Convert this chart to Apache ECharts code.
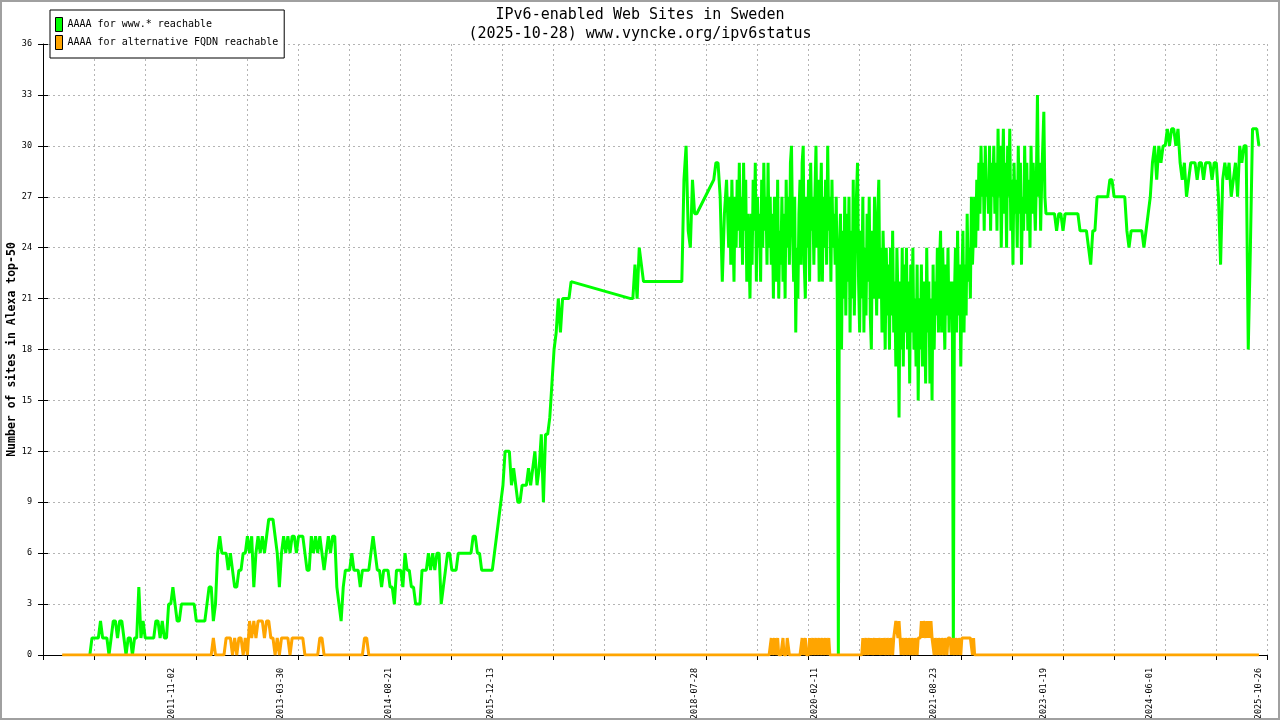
<!DOCTYPE html>
<html><head><meta charset="utf-8">
<script src="https://cdn.jsdelivr.net/npm/echarts@6/dist/echarts.min.js"></script>
<style>
html,body{margin:0;padding:0;background:#fff}
#c{width:1280px;height:720px;position:absolute;left:0;top:0}
#f{position:absolute;left:0;top:0;width:1280px;height:720px;box-sizing:border-box;border:2px solid #a0a0a0;pointer-events:none}
</style></head><body><div id="c"></div><div id="f"></div>
<script>
// x axis: days since axis origin; tick labels as dates
const axisOrigin = '2010-03-09';
const tickLabels = ['2011-11-02','2013-03-30','2014-08-21','2015-12-13','2018-07-28','2020-02-11','2021-08-23','2023-01-19','2024-06-01','2025-10-26'];

// ---- AAAA for www.* reachable ----
// part 1: from 2010-10-15, one value every 10 days
const greenStart1 = '2010-10-15', greenStep1 = 10;
const greenA = [0,1,1,1,1,2,1,1,1,0, 1,2,2,1,2,2,1,0,1,1, 0,1,1,4,1,2,1,1,1,1, 1,2,2,1,2,1,1,3,3,4, 3,2,2,3,3,3,3,3,3,3];
const greenB = [2,2,2,2,2,3,4,4,2,3, 6,7,6,6,6,5,6,5,4,4, 5,5,6,6,7,6,7,4,6,7, 6,7,6,7,8,8,8,7,6,4, 6,7,6,7,6,7,7,6,7,7];
const greenC = [7,6,5,5,7,6,7,6,7,6, 5,6,7,6,7,7,4,3,2,4, 5,5,5,6,5,5,5,4,5,5, 5,5,6,7,6,5,5,4,5,5, 5,4,4,3,5,5,5,4,6,5];
const greenD = [5,4,4,3,3,3,5,5,5,6, 5,6,5,6,6,3,4,5,6,6, 5,5,5,6,6,6,6,6,6,6, 7,7,6,6,5,5,5,5,5,5, 6,7,8,9,10,12,12,12,10,11];
const greenE = [10,9,9,10,10,10,11,10,11,12, 10,11,13,9,13,13,14,16,18,19, 21,19,21,21,21,21,22,null,null,null,
  null,null,null,null,null,null,null,null,null,null, null,null,null,null,null,null,null,null,null,null];
const greenF = [null,null,null,null,21,21,23,21,24,23, 22,22,22,22,22,22,22,22,22,22, 22,22,22,22,22,22,22,22,22,28,
  30,25,24,28,26,26,null,null,null,null, null,null,null,28,29,29,27,22,26,28];
// part 2: from 2019-01-01, one value every 5 days (noisy period)
const greenStart2 = '2019-01-01', greenStep2 = 5;
const green2019 = [24,27,23,28,25,22,27,24,28,25, 29,24,27,23,29,25,28,22,26,24, 21,26,23,28,25,29,22,27,24,26,
  22,28,24,29,25,27,23,29,24,27, 23,26,21,27,24,22,28,21,25,23, 27,22,26,21,28,24,27,23,29,30,
  25,22,27,19,24,21,26,28,23,29, 30,23,21,27,24,28,22,29,25,27];
const green2020 = [23,27,30,24,28,22,26,29,22,27, 24,28,23,30,25,27,22,28,24,26, 23,27,21,0,24,26,18,25,21,27,
  20,26,22,27,19,25,21,28,20,24, 27,29,22,19,25,21,27,19,24,20, 26,22,27,20,18,25,21,27,23,20,
  26,28,21,24,19,25,22,18,24,20, 23,18,24,20,25,19,22,17,24,21];
const green2021 = [14,22,18,24,17,23,19,24,18,22, 16,23,19,24,18,21,17,23,15,21, 18,23,17,22,20,16,24,19,22,16,
  21,15,23,18,22,20,24,19,23,25, 19,24,21,18,23,20,24,19,22,21, 22,0,21,24,19,25,20,23,17,22,
  25,19,23,20,26,22,24,21,27,23, 25,27,24,28,25,29,26,30,27,29];
const green2022 = [25,30,27,28,26,30,25,29,27,30, 26,29,25,31,27,30,24,28,31,26, 29,24,30,27,31,25,28,23,29,26,
  28,24,30,26,29,23,27,25,30,26, 29,25,28,24,30,26,29,27,25,28, 33,27,29,25,28,30,32,27,26,26];
// part 3: from 2023-02-09, one value every 10 days
const greenStart3 = '2023-02-09', greenStep3 = 10;
const greenJ = [26,26,26,26,25,26,26,25,26,26, 26,26,26,26,26,25,25,25,25,24, 23,25,25,27,27,27,27,27,27,28,
  28,27,27,27,27,27,27,25,24,25, 25,25,25,25,25,24,25,26,27,29];
const greenK = [30,28,30,29,30,30,31,30,31,31, 30,31,29,28,29,27,28,29,29,29, 28,29,29,28,29,29,29,28,29,29,
  27,23,28,29,28,29,27,28,29,27, 30,29,30,30,18,24,31,31,31,30];

// ---- AAAA for alternative FQDN reachable ----
// part 1: from 2010-06-07, one value every 10 days
const orangeStart1 = '2010-06-07', orangeStep1 = 10;
const orangeA = [0,0,0,0,0,0,0,0,0,0, 0,0,0,0,0,0,0,0,0,0, 0,0,0,0,0,0,0,0,0,0, 0,0,0,0,0,0,0,0,0,0, 0,0,0,0,0,0,0,0,0,0];
const orangeB = [0,0,0,0,0,0,0,0,0,0, 0,0,0,0,0,0,0,0,0,0, 0,1,0,0,0,0,0,1,1,1, 0,1,0,1,1,0,1,0,2,1, 2,1,2,2,2,1,2,2,1,1];
const orangeC = [0,1,0,1,1,1,1,0,1,1, 1,1,1,1,0,0,0,0,0,0, 0,1,1,0,0,0,0,0,0,0, 0,0,0,0,0,0,0,0,0,0, 0,0,1,1,0,0,0,0,0,0];
const orangeD = [0,0,0,0,0,0,0,0,0,0, 0,0,0,0,0,0,0,0,0,0, 0,0,0,0,0,0,0,0,0,0, 0,0,0,0,0,0,0,0,0,0, 0,0,0,0,0,0,0,0,0,0];
const orangeE = [0,0,0,0,0,0,0,0,0,0, 0,0,0,0,0,0,0,0,0,0, 0,0,0,0,0,0,0,0,0,0, 0,0,0,0,0,0,0,0,0,0, 0,0,0,0,0,0,0,0,0,0];
const orangeF = [0,0,0,0,0,0,0,0,0,0, 0,0,0,0,0,0,0,0,0,0, 0,0,0,0,0,0,0,0,0,0, 0,0,0,0,0,0,0,0,0,0, 0,0,0,0,0,0,0,0,0,0];
const orangeG = [0,0,0,0,0,0,0,0,0,0, 0,0,0];
// part 2: from 2019-01-01, one value every 5 days
const orangeStart2 = '2019-01-01', orangeStep2 = 5;
const orange2019 = [0,0,0,0,0,0,0,0,0,0, 0,0,0,0,0,0,0,0,0,0, 0,0,0,0,0,0,0,0,0,0,
  0,0,0,0,0,0,0,0,0,0, 1,0,0,1,0,0,1,0,0,0, 0,1,0,0,0,1,1,0,0,0,
  0,0,0,0,0,0,0,0,0,1, 0,0,1,0,0,0,1,0,0,1];
const orange2020 = [0,0,1,0,0,1,0,0,1,0, 0,1,0,0,1,0,0,0,0,0, 0,0,0,0,0,0,0,0,0,0,
  0,0,0,0,0,0,0,0,0,0, 0,0,0,0,0,0,1,0,0,1, 0,0,1,0,1,0,0,1,0,1,
  0,1,1,0,1,0,1,1,0,1, 1,0,1,1,0,1,1,2,2,1];
const orange2021 = [2,1,0,1,1,0,1,1,0,1, 1,0,1,1,0,1,1,0,1,1, 1,2,1,2,2,1,2,1,2,1,
  2,1,1,0,1,1,0,1,1,0, 1,1,0,1,1,0,1,1,1,0, 1,1,0,1,1,0,1,1,0,1,
  1,1,1,1,1,1,1,1,1,0, 1,0,0,0,0,0,0,0,0,0];
const orange2022 = [0,0,0,0,0,0,0,0,0,0, 0,0,0,0,0,0,0,0,0,0, 0,0,0,0,0,0,0,0,0,0,
  0,0,0,0,0,0,0,0,0,0, 0,0,0,0,0,0,0,0,0,0, 0,0,0,0,0,0,0,0,0,0];
// part 3: from 2023-02-09, one value every 10 days
const orangeStart3 = '2023-02-09', orangeStep3 = 10;
const orangeH = [0,0,0,0,0,0,0,0,0,0, 0,0,0,0,0,0,0,0,0,0, 0,0,0,0,0,0,0,0,0,0, 0,0,0,0,0,0,0,0,0,0, 0,0,0,0,0,0,0,0,0,0];
const orangeI = [0,0,0,0,0,0,0,0,0,0, 0,0,0,0,0,0,0,0,0,0, 0,0,0,0,0,0,0,0,0,0, 0,0,0,0,0,0,0,0,0,0, 0,0,0,0,0,0,0,0,0,0];

function dayNum(s) {
  const p = s.split('-').map(Number), o = axisOrigin.split('-').map(Number);
  return Math.round((Date.UTC(p[0], p[1]-1, p[2]) - Date.UTC(o[0], o[1]-1, o[2])) / 86400000);
}
function part(start, step, values) {
  const d0 = dayNum(start);
  return values.map((v, i) => [d0 + i * step, v]);
}
const greenData = [].concat(
  part(greenStart1, greenStep1, [].concat(greenA, greenB, greenC, greenD, greenE, greenF)),
  part(greenStart2, greenStep2, [].concat(green2019, green2020, green2021, green2022)),
  part(greenStart3, greenStep3, [].concat(greenJ, greenK)));
const orangeData = [].concat(
  part(orangeStart1, orangeStep1, [].concat(orangeA, orangeB, orangeC, orangeD, orangeE, orangeF, orangeG)),
  part(orangeStart2, orangeStep2, [].concat(orange2019, orange2020, orange2021, orange2022)),
  part(orangeStart3, orangeStep3, [].concat(orangeH, orangeI)));
const labelDays = tickLabels.map(dayNum);

const mono = 'DejaVu Sans Mono';
const gridLine = {show: true, lineStyle: {color: '#b4b4b4', width: 1, type: [2, 3]}};
const chart = echarts.init(document.getElementById('c'), null, {renderer: 'canvas'});
chart.setOption({
  animation: false,
  backgroundColor: '#fff',
  title: {
    text: 'IPv6-enabled Web Sites in Sweden\n(2025-10-28) www.vyncke.org/ipv6status',
    left: 'center', top: 1,
    textStyle: {fontFamily: mono, fontSize: 15, fontWeight: 'normal', lineHeight: 19, color: '#000'}
  },
  legend: {
    orient: 'vertical', left: 50, top: 10, padding: [7, 6, 8, 5], itemGap: 3,
    itemWidth: 7, itemHeight: 14, icon: 'rect',
    borderColor: '#000', borderWidth: 1, backgroundColor: '#fff',
    itemStyle: {borderColor: '#000', borderWidth: 1},
    textStyle: {fontFamily: mono, fontSize: 10, color: '#000', padding: [2, 0, 0, 0]},
    data: ['AAAA for www.* reachable', 'AAAA for alternative FQDN reachable']
  },
  grid: {left: 43, right: 13, top: 44, bottom: 65, containLabel: false, outerBoundsMode: 'none'},
  xAxis: [{
    type: 'value', min: 0, max: 5748, interval: 239.5,
    axisLine: {show: true, onZero: false, lineStyle: {color: '#000', width: 1}},
    axisTick: {show: true, length: 5, lineStyle: {color: '#000'}},
    splitLine: gridLine,
    axisLabel: {
      customValues: labelDays, rotate: 90, margin: 13,
      fontFamily: mono, fontSize: 8.5, color: '#000',
      formatter: v => { const k = labelDays.findIndex(d => Math.abs(d - v) < 0.5); return k >= 0 ? tickLabels[k] : ''; }
    }
  }],
  yAxis: [{
    type: 'value', min: 0, max: 36, interval: 3,
    axisLine: {show: true, lineStyle: {color: '#000', width: 1}},
    axisTick: {show: true, length: 5, lineStyle: {color: '#000'}},
    axisLabel: {margin: 11, fontFamily: mono, fontSize: 8.5, color: '#000'},
    splitLine: gridLine,
    name: 'Number of sites in Alexa top-50', nameLocation: 'middle', nameGap: 25, nameMoveOverlap: false,
    nameTextStyle: {fontFamily: mono, fontSize: 11.5, fontWeight: 'bold', color: '#000'}
  }, {
    type: 'value', min: 0, max: 36, interval: 3, position: 'left',
    axisLine: {show: false}, axisLabel: {show: false}, splitLine: {show: false},
    axisTick: {show: true, inside: true, length: 5, lineStyle: {color: '#000'}}
  }],
  series: [{
    name: 'AAAA for www.* reachable', type: 'line', data: greenData,
    showSymbol: false, symbol: 'none', connectNulls: true, z: 2,
    lineStyle: {width: 3, color: '#00ff00'}, itemStyle: {color: '#00ff00'}
  }, {
    name: 'AAAA for alternative FQDN reachable', type: 'line', data: orangeData,
    showSymbol: false, symbol: 'none', connectNulls: true, z: 3,
    lineStyle: {width: 3, color: '#ffa500'}, itemStyle: {color: '#ffa500'}
  }]
});
</script></body></html>
